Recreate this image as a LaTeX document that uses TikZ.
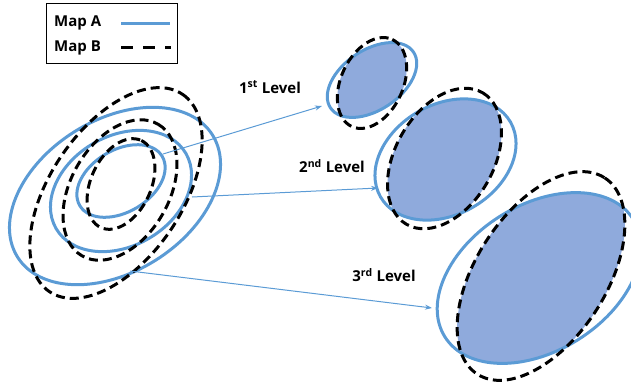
\documentclass[tikz,border=0pt]{standalone}
\usepackage{fontspec}
\setmainfont{Open Sans}
\usetikzlibrary{arrows.meta}
\definecolor{mapblue}{HTML}{5B9BD5}
\definecolor{mapfill}{HTML}{8FAADC}
\tikzset{
  bline/.style={draw=mapblue, line width=3pt},
  dline/.style={draw=black, line width=3pt, dash pattern=on 9pt off 5pt},
  arr/.style={draw=mapblue, line width=1pt, -{Stealth[length=7pt,width=5pt]}},
  lbl/.style={font=\bfseries\fontsize{15}{17}\selectfont, inner sep=0pt},
}
\newcommand\ellip[5]{(#1,#2) ellipse [x radius=#3, y radius=#4, rotate=#5]}
\begin{document}
\begin{tikzpicture}[x=1pt,y=-1pt]
\useasboundingbox (0,0) rectangle (631,386);
\clip (0,0) rectangle (631,386);
% ---- fills (intersection of Map A and Map B) ----
\begin{scope}
  \clip \ellip{372}{80}{50}{30}{34};
  \fill[mapfill] \ellip{372}{83}{48}{31}{65};
\end{scope}
\begin{scope}
  \clip \ellip{445.5}{159.5}{75}{55}{30};
  \fill[mapfill] \ellip{444.5}{158.5}{76}{49}{60};
\end{scope}
\begin{scope}
  \clip \ellip{539}{278}{111}{73}{32};
  \fill[mapfill] \ellip{541}{276}{117}{65}{57};
\end{scope}
% ---- left concentric ellipses ----
\draw[bline] \ellip{115}{196}{115}{76}{32};
\draw[bline] \ellip{121}{191}{75}{55}{30};
\draw[bline] \ellip{121}{181}{48}{31}{31};
\draw[dline] \ellip{116}{193}{119}{66}{56};
\draw[dline] \ellip{120}{190}{76}{49}{60};
\draw[dline] \ellip{121}{184}{48}{30}{65};
% ---- right levels ----
\draw[bline] \ellip{372}{80}{50}{30}{34};
\draw[dline] \ellip{372}{83}{48}{31}{65};
\draw[bline] \ellip{445.5}{159.5}{75}{55}{30};
\draw[dline] \ellip{444.5}{158.5}{76}{49}{60};
\draw[bline] \ellip{539}{278}{111}{73}{32};
\draw[dline] \ellip{541}{276}{117}{65}{57};
% ---- arrows ----
\coordinate (a1s) at (163,154);
\coordinate (a1e) at (322,106);
\coordinate (a2s) at (192,197);
\coordinate (a2e) at (378,188);
\coordinate (a3s) at (130,271);
\coordinate (a3e) at (432,308);
\draw[arr] (a1s) -- (a1e);
\draw[arr] (a2s) -- (a2e);
\draw[arr] (a3s) -- (a3e);
% ---- labels ----
\node[lbl] (l1) at (270,87) {1\textsuperscript{st} Level};
\node[lbl] (l2) at (332,166) {2\textsuperscript{nd} Level};
\node[lbl] (l3) at (384,275) {3\textsuperscript{rd} Level};
% ---- legend ----
\node[draw=black, line width=1pt, minimum width=131pt, minimum height=60pt, anchor=north west, inner sep=0pt] (legend) at (46,3) {};
\node[lbl, anchor=west] (ta) at (54,23) {Map A};
\node[lbl, anchor=west] (tb) at (54,48) {Map B};
\coordinate (la1) at (121,23);
\coordinate (la2) at (170,23);
\coordinate (lb1) at (121,47);
\coordinate (lb2) at (171,47);
\draw[draw=mapblue, line width=3pt] (la1) -- (la2);
\draw[draw=black, line width=3pt, dash pattern=on 12pt off 10pt] (lb1) -- (lb2);
\end{tikzpicture}
\end{document}
